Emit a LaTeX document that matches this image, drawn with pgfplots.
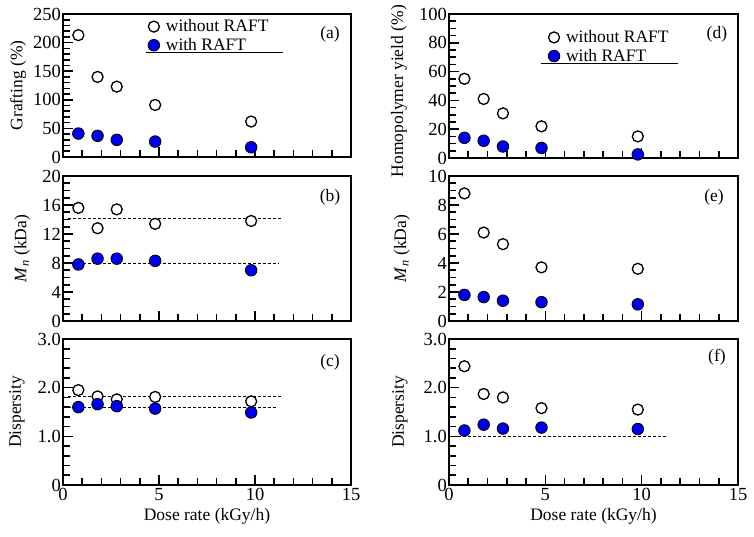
\documentclass[border=0pt]{standalone}
\usepackage{fontspec}
\setmainfont{Liberation Serif}
\usepackage{pgfplots}
\pgfplotsset{compat=1.18}
\definecolor{mblue}{RGB}{0,0,230}
\pgfplotsset{
 panel/.style={
  scale only axis, width=288pt, height=145pt,
  xmin=0, xmax=15, xtick={0,5,10,15}, minor x tick num=4,
  axis line style={line width=2pt},
  every tick/.style={line width=1.6pt, black},
  major tick length=10pt, minor tick length=7pt,
  tick align=inside,
  xtick pos=bottom, ytick pos=left,
  font=\fontsize{17.5}{21}\selectfont,
  tick label style={font=\fontsize{18.5}{22}\selectfont},
  label style={font=\fontsize{17.5}{21}\selectfont},
  yticklabel style={inner sep=2pt},
  /pgf/number format/assume math mode=true,
  clip=false,
 },
 notx/.style={xticklabels={}},
 wo/.style={only marks, mark=*, mark size=5.5pt, mark options={fill=white, draw=black, line width=1.3pt}},
 wi/.style={only marks, mark=*, mark size=5.8pt, mark options={fill=mblue, draw=black, line width=0.8pt}},
 dl/.style={black, line width=0.9pt, dash pattern=on 3pt off 2pt},
 leg/.style={legend style={draw=none, fill=none, at={(axis description cs:#1)}, anchor=north west,
   font=\fontsize{17.5}{21}\selectfont, row sep=1pt, inner sep=0pt,
   /tikz/every odd column/.append style={column sep=4pt}},
   legend cell align=left,
   legend image code/.code={\draw[##1] plot coordinates {(0pt,0pt)}; \path[draw=none,fill=none] (-6pt,0pt) rectangle (6pt,0.1pt);}},
}
\begin{document}
\begin{tikzpicture}
\useasboundingbox (0,0) rectangle (754pt,-536pt);
% (a)
\begin{axis}[panel, notx, at={(63pt,-157pt)}, anchor=south west, height=143pt,
  ymin=0, ymax=250, ytick={0,50,...,250}, minor y tick num=4,
  ylabel={Grafting (\%)}, ylabel style={at={(axis description cs:-0.156,0.5)}, anchor=center},
  leg={0.294,0.975}]
\addplot[wo] coordinates {(0.8,213)(1.8,140)(2.8,123)(4.8,91)(9.8,62)};
\addlegendentry{without RAFT}
\addplot[wi] coordinates {(0.8,41)(1.8,37)(2.8,30)(4.8,27)(9.8,17)};
\addlegendentry{with RAFT}
\draw[line width=1pt] (axis cs:4.32,182) -- (axis cs:11.46,182);
\node at (axis description cs:0.927,0.86) {(a)};
\end{axis}
% (b)
\begin{axis}[panel, notx, at={(63pt,-321pt)}, anchor=south west,
  ymin=0, ymax=20, ytick={0,4,...,20}, minor y tick num=3,
  ylabel={\textit{M}\textsubscript{\textit{n}} (kDa)}, ylabel style={at={(axis description cs:-0.142,0.5)}, anchor=center}]
\addplot[dl] coordinates {(0.26,14.2)(11.4,14.2)};
\addplot[dl] coordinates {(0.26,7.95)(11.2,7.95)};
\addplot[wo] coordinates {(0.8,15.6)(1.8,12.8)(2.8,15.4)(4.8,13.4)(9.8,13.8)};
\addplot[wi] coordinates {(0.8,7.8)(1.8,8.6)(2.8,8.6)(4.8,8.3)(9.8,7.0)};
\node at (axis description cs:0.927,0.85) {(b)};
\end{axis}
% (c)
\begin{axis}[panel, at={(63pt,-485pt)}, anchor=south west, height=146pt,
  ymin=0, ymax=3, ytick={0,1,2,3}, yticklabels={0,1.0,2.0,3.0}, minor y tick num=4,
  ylabel={Dispersity}, ylabel style={at={(axis description cs:-0.16,0.5)}, anchor=center},
  xlabel={Dose rate (kGy/h)}]
\addplot[dl] coordinates {(0.26,1.81)(11.45,1.81)};
\addplot[dl] coordinates {(0.26,1.60)(11.1,1.60)};
\addplot[wo] coordinates {(0.8,1.95)(1.8,1.82)(2.8,1.76)(4.8,1.81)(9.8,1.72)};
\addplot[wi] coordinates {(0.8,1.60)(1.8,1.66)(2.8,1.62)(4.8,1.57)(9.8,1.49)};
\node at (axis description cs:0.927,0.84) {(c)};
\end{axis}
% (d)
\begin{axis}[panel, notx, at={(449pt,-158pt)}, anchor=south west, width=289pt, height=144pt,
  ymin=0, ymax=100, ytick={0,20,...,100}, minor y tick num=3,
  ylabel={Homopolymer yield (\%)}, ylabel style={at={(axis description cs:-0.173,0.465)}, anchor=center},
  leg={0.342,0.9}]
\addplot[wo] coordinates {(0.8,55)(1.8,41)(2.8,31)(4.8,22)(9.8,15)};
\addlegendentry{without RAFT}
\addplot[wi] coordinates {(0.8,14)(1.8,12)(2.8,8)(4.8,7)(9.8,2.5)};
\addlegendentry{with RAFT}
\draw[line width=1pt] (axis cs:4.78,65.3) -- (axis cs:11.9,65.3);
\node at (axis description cs:0.927,0.86) {(d)};
\end{axis}
% (e)
\begin{axis}[panel, notx, at={(449pt,-321pt)}, anchor=south west, width=289pt,
  ymin=0, ymax=10, ytick={0,2,...,10}, minor y tick num=3,
  ylabel={\textit{M}\textsubscript{\textit{n}} (kDa)}, ylabel style={at={(axis description cs:-0.163,0.5)}, anchor=center}]
\addplot[wo] coordinates {(0.8,8.8)(1.8,6.1)(2.8,5.3)(4.8,3.7)(9.8,3.6)};
\addplot[wi] coordinates {(0.8,1.8)(1.8,1.65)(2.8,1.4)(4.8,1.3)(9.8,1.15)};
\node at (axis description cs:0.917,0.855) {(e)};
\end{axis}
% (f)
\begin{axis}[panel, at={(449pt,-485pt)}, anchor=south west, width=289pt, height=146pt,
  ymin=0, ymax=3, ytick={0,1,2,3}, yticklabels={0,1.0,2.0,3.0}, minor y tick num=4,
  ylabel={Dispersity}, ylabel style={at={(axis description cs:-0.17,0.5)}, anchor=center},
  xlabel={Dose rate (kGy/h)}]
\addplot[dl] coordinates {(0.2,1.0)(11.3,1.0)};
\addplot[wo] coordinates {(0.8,2.44)(1.8,1.87)(2.8,1.80)(4.8,1.58)(9.8,1.55)};
\addplot[wi] coordinates {(0.8,1.12)(1.8,1.24)(2.8,1.16)(4.8,1.18)(9.8,1.15)};
\node at (axis description cs:0.927,0.877) {(f)};
\end{axis}
\end{tikzpicture}
\end{document}
